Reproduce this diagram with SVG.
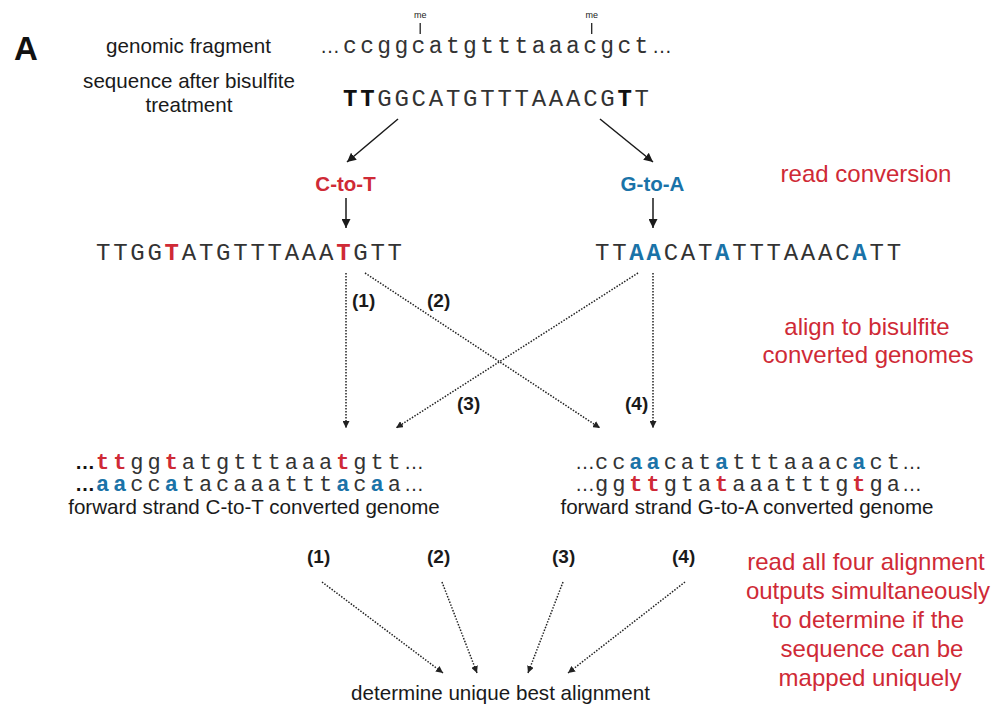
<svg xmlns="http://www.w3.org/2000/svg" width="1008" height="726" viewBox="0 0 1008 726">
<defs>
<style>
.lbl{font-family:"Liberation Sans",Arial,sans-serif;font-size:20.6px;fill:#1a1a1a;}
.red{font-family:"Liberation Sans",Arial,sans-serif;font-size:24px;fill:#cf2a36;text-anchor:middle;}
.num{font-family:"Liberation Sans",Arial,sans-serif;font-size:19px;font-weight:bold;fill:#1a1a1a;}
.seq{font-family:"Liberation Mono","Courier New",monospace;font-size:24px;letter-spacing:2.75px;fill:#333;}
.seql{font-family:"Liberation Mono","Courier New",monospace;font-size:23px;letter-spacing:3.35px;fill:#333;}
.seqs{font-family:"Liberation Mono","Courier New",monospace;font-size:22px;letter-spacing:3.95px;fill:#333;}
.ell{font-family:"Liberation Sans",Arial,sans-serif;font-size:20px;fill:#2a2a2a;}
.b{font-weight:bold;}
.r{font-weight:bold;fill:#cf2a36;}
.bl{font-weight:bold;fill:#1a73a8;}
.k{font-weight:bold;fill:#111;}
.solid{stroke:#1a1a1a;stroke-width:1.5;fill:none;}
.dot{stroke:#222;stroke-width:1.5;fill:none;stroke-dasharray:1.5 1.5;}
</style>
<marker id="ah" viewBox="0 0 10 10" refX="10" refY="5" markerWidth="9" markerHeight="9" markerUnits="userSpaceOnUse" orient="auto">
<path d="M0,0 L10,5 L0,10 z" fill="#1a1a1a"/>
</marker>
<marker id="ahd" viewBox="0 0 10 10" refX="10" refY="5" markerWidth="7" markerHeight="7" markerUnits="userSpaceOnUse" orient="auto">
<path d="M0,0 L10,5 L0,10 z" fill="#222"/>
</marker>
</defs>
<rect width="1008" height="726" fill="#fff"/>

<g id="panel-label">
<text x="14" y="60" style="font-family:'Liberation Sans',Arial,sans-serif;font-size:33px;font-weight:bold;fill:#111">A</text>
</g>

<g id="genomic">
<text class="lbl" x="188.5" y="53" text-anchor="middle">genomic fragment</text>
<text class="ell" x="320" y="53">…</text>
<text class="seql" x="343" y="53">ccggcatgtttaaacgct</text>
<text class="ell" x="652" y="53">…</text>
<text x="420.2" y="18" text-anchor="middle" style="font-family:'Liberation Sans',Arial,sans-serif;font-size:9px;fill:#222">me</text>
<text x="591.7" y="18" text-anchor="middle" style="font-family:'Liberation Sans',Arial,sans-serif;font-size:9px;fill:#222">me</text>
<line x1="420.2" y1="23" x2="420.2" y2="34" stroke="#222" stroke-width="1.3"/>
<line x1="591.7" y1="23" x2="591.7" y2="34" stroke="#222" stroke-width="1.3"/>
</g>

<g id="bisulfite">
<text class="lbl" x="189" y="88" text-anchor="middle">sequence after bisulfite</text>
<text class="lbl" x="189" y="112" text-anchor="middle">treatment</text>
<text class="seq" x="343" y="106"><tspan class="k">TT</tspan>GGCATGTTTAAACG<tspan class="k">T</tspan>T</text>
</g>

<g id="ctot">
<text x="345.5" y="191" text-anchor="middle" style="font-family:'Liberation Sans',Arial,sans-serif;font-size:20.5px;font-weight:bold;fill:#cf2a36">C-to-T</text>
<text class="seq" x="96" y="260">TTGG<tspan class="r">T</tspan>ATGTTTAAA<tspan class="r">T</tspan>GTT</text>
</g>

<g id="gtoa">
<text x="652.5" y="191" text-anchor="middle" style="font-family:'Liberation Sans',Arial,sans-serif;font-size:20.5px;font-weight:bold;fill:#1a73a8">G-to-A</text>
<text class="seq" x="595" y="260">TT<tspan class="bl">AA</tspan>CAT<tspan class="bl">A</tspan>TTTAAAC<tspan class="bl">A</tspan>TT</text>
</g>

<g id="notes">
<text class="red" x="866" y="182">read conversion</text>
<text class="red" x="867" y="335">align to bisulfite</text>
<text class="red" x="868" y="363">converted genomes</text>
<text class="red" x="866" y="570">read all four alignment</text>
<text class="red" x="868" y="599">outputs simultaneously</text>
<text class="red" x="868" y="628">to determine if the</text>
<text class="red" x="872" y="657">sequence can be</text>
<text class="red" x="870" y="686">mapped uniquely</text>
</g>

<g id="genome-ct">
<text class="ell b" x="75" y="469" style="fill:#111">…</text>
<text class="seqs" x="96" y="469"><tspan class="r">tt</tspan>gg<tspan class="r">t</tspan>atgtttaaa<tspan class="r">t</tspan>gtt</text>
<text class="ell" x="404" y="469">…</text>
<text class="ell b" x="75" y="491" style="fill:#111">…</text>
<text class="seqs" x="96" y="491"><tspan class="bl">aa</tspan>cc<tspan class="bl">a</tspan>tacaaattt<tspan class="bl">a</tspan>c<tspan class="bl">a</tspan>a</text>
<text class="ell" x="404" y="491">…</text>
<text class="lbl" x="254" y="514" text-anchor="middle">forward strand C-to-T converted genome</text>
</g>

<g id="genome-ga">
<text class="ell" x="575" y="469">…</text>
<text class="seqs" x="595" y="469">cc<tspan class="bl">aa</tspan>cat<tspan class="bl">a</tspan>tttaaac<tspan class="bl">a</tspan>ct</text>
<text class="ell" x="902" y="469">…</text>
<text class="ell" x="575" y="491">…</text>
<text class="seqs" x="595" y="491">gg<tspan class="r">tt</tspan>gta<tspan class="r">t</tspan>aaatttg<tspan class="r">t</tspan>ga</text>
<text class="ell" x="902" y="491">…</text>
<text class="lbl" x="747" y="514" text-anchor="middle">forward strand G-to-A converted genome</text>
</g>

<g id="result">
<text class="lbl" x="500.5" y="700" text-anchor="middle">determine unique best alignment</text>
</g>

<g id="connectors">
<line class="solid" x1="398" y1="119" x2="347" y2="162" marker-end="url(#ah)"/>
<line class="solid" x1="600" y1="119" x2="653" y2="162" marker-end="url(#ah)"/>
<line class="solid" x1="346" y1="198" x2="346" y2="228" marker-end="url(#ah)"/>
<line class="solid" x1="653" y1="198" x2="653" y2="228" marker-end="url(#ah)"/>

<line class="dot" x1="346" y1="273" x2="346" y2="428" marker-end="url(#ahd)"/>
<line class="dot" x1="365" y1="273" x2="600" y2="428" marker-end="url(#ahd)"/>
<line class="dot" x1="638" y1="273" x2="396" y2="428" marker-end="url(#ahd)"/>
<line class="dot" x1="653" y1="273" x2="653" y2="428" marker-end="url(#ahd)"/>
<text class="num" x="352" y="307">(1)</text>
<text class="num" x="427" y="307">(2)</text>
<text class="num" x="457" y="410">(3)</text>
<text class="num" x="625" y="410">(4)</text>

<text class="num" x="307" y="563">(1)</text>
<text class="num" x="427" y="563">(2)</text>
<text class="num" x="552" y="563">(3)</text>
<text class="num" x="672" y="563">(4)</text>
<line class="dot" x1="322" y1="582" x2="443" y2="673" marker-end="url(#ahd)"/>
<line class="dot" x1="442" y1="582" x2="477" y2="673" marker-end="url(#ahd)"/>
<line class="dot" x1="563" y1="582" x2="528" y2="673" marker-end="url(#ahd)"/>
<line class="dot" x1="685" y1="582" x2="568" y2="673" marker-end="url(#ahd)"/>
</g>
</svg>
